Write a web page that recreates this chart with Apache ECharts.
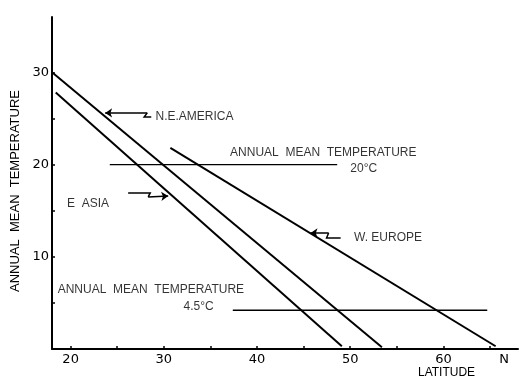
<!DOCTYPE html>
<html>
<head>
<meta charset="utf-8">
<script src="https://cdn.jsdelivr.net/npm/echarts@6/dist/echarts.min.js"></script>
<style>
html,body{margin:0;padding:0;background:#fff;}
#c{width:519px;height:380px;}
</style>
</head>
<body>
<div id="c"></div>
<script>
// ---- data (latitude °N, annual mean temperature °C) ----
const neAmerica = [[18, 30], [53.4, 0.2]];
const eAsia = [[18.4, 27.8], [49.1, 0.3]];
const wEurope = [[30.7, 21.8], [65.6, 0.3]];
const isotherm20 = [[24.2, 20], [48.6, 20]];
const isotherm45 = [[37.4, 4.2], [64.7, 4.2]];

const xTickLabels = [20, 30, 40, 50, 60];
const xMinorTicks = [20, 25, 30, 35, 40, 45, 50, 55, 60, 65];
const yTickLabels = [10, 20, 30];
const yMinorTicks = [5, 10, 15, 20, 25, 30];

// annotation texts anchored in data coordinates
const annotTexts = ['N.E.AMERICA', 'ANNUAL  MEAN  TEMPERATURE', '20°C', 'E  ASIA', 'W. EUROPE', 'ANNUAL  MEAN  TEMPERATURE', '4.5°C'];
const annotAnchors = [[29.1, 25.2], [37.1, 21.3], [50.0, 19.6], [19.6, 15.8], [50.4, 12.1], [18.6, 6.4], [32.1, 4.6]];
// pointer arrows: zig-zag tail, then shaft ending with the head at the curve
const tailNE = [[28.65, 25.16], [27.89, 25.16], [28.22, 25.6]];
const shaftNE = [[28.22, 25.6], [23.7, 25.6]];
const tailEA = [[26.17, 16.92], [28.54, 16.92], [28.32, 16.49]];
const shaftEA = [[28.32, 16.49], [30.47, 16.59]];
const tailWE = [[48.97, 12.04], [47.46, 12.04], [47.68, 12.58]];
const shaftWE = [[47.68, 12.58], [45.74, 12.58]];

const chart = echarts.init(document.getElementById('c'), null, {renderer: 'canvas'});
const FONT = 'Liberation Sans';
const lineSeries = (d, w) => ({
  type: 'line', data: d, symbol: 'none', silent: true,
  lineStyle: {color: '#000', width: w}, z: 3
});
chart.setOption({
  animation: false,
  backgroundColor: '#fff',
  grid: {left: 52, right: 1, top: 17, bottom: 31},
  xAxis: {
    type: 'value', min: 18, max: 68,
    axisLine: {lineStyle: {color: '#000', width: 2}},
    axisTick: {show: true, inside: true, length: 3, customValues: xMinorTicks, lineStyle: {color: '#000', width: 1.5}},
    axisLabel: {
      customValues: xTickLabels.concat([66.5]),
      formatter: v => (v === 66.5 ? 'N' : String(v)),
      color: '#000', fontFamily: 'DejaVu Sans', fontSize: 13, margin: 4
    },
    splitLine: {show: false}
  },
  yAxis: {
    type: 'value', min: 0, max: 36,
    name: 'ANNUAL  MEAN  TEMPERATURE',
    nameLocation: 'middle', nameGap: 26,
    nameTextStyle: {color: '#000', fontFamily: FONT, fontSize: 13, padding: [0, 16, 0, 0]},
    axisLine: {lineStyle: {color: '#000', width: 2}},
    axisTick: {show: true, inside: true, length: 3, customValues: yMinorTicks, lineStyle: {color: '#000', width: 1.5}},
    axisLabel: {customValues: yTickLabels, color: '#000', fontFamily: 'DejaVu Sans', fontSize: 13, margin: 3},
    splitLine: {show: false}
  },
  graphic: [{
    type: 'text', left: 418, top: 367,
    style: {text: 'LATITUDE', fill: '#000', font: '12px "Liberation Sans"'}
  }],
  series: [
    lineSeries(neAmerica, 2),
    lineSeries(eAsia, 2),
    lineSeries(wEurope, 2),
    lineSeries(isotherm20, 1.3),
    lineSeries(isotherm45, 1.3),
    {
      type: 'lines', coordinateSystem: 'cartesian2d', polyline: true, silent: true,
      lineStyle: {color: '#000', width: 1.5, opacity: 1},
      data: [{coords: tailNE}, {coords: tailEA}, {coords: tailWE}], z: 4
    },
    {
      type: 'lines', coordinateSystem: 'cartesian2d', silent: true,
      symbol: ['none', 'arrow'], symbolSize: 7,
      lineStyle: {color: '#000', width: 1.5, opacity: 1},
      itemStyle: {color: '#000'},
      data: [{coords: shaftNE}, {coords: shaftEA}, {coords: shaftWE}], z: 4
    },
    {
      type: 'scatter', symbolSize: 0.1, silent: true, clip: false,
      itemStyle: {color: 'rgba(0,0,0,0)'},
      data: annotAnchors.map((p, i) => ({value: p, name: annotTexts[i]})),
      label: {
        show: true, position: 'right', distance: 0,
        formatter: p => p.name,
        color: '#000', fontFamily: FONT, fontSize: 12
      }, z: 5
    }
  ]
});
</script>
</body>
</html>
